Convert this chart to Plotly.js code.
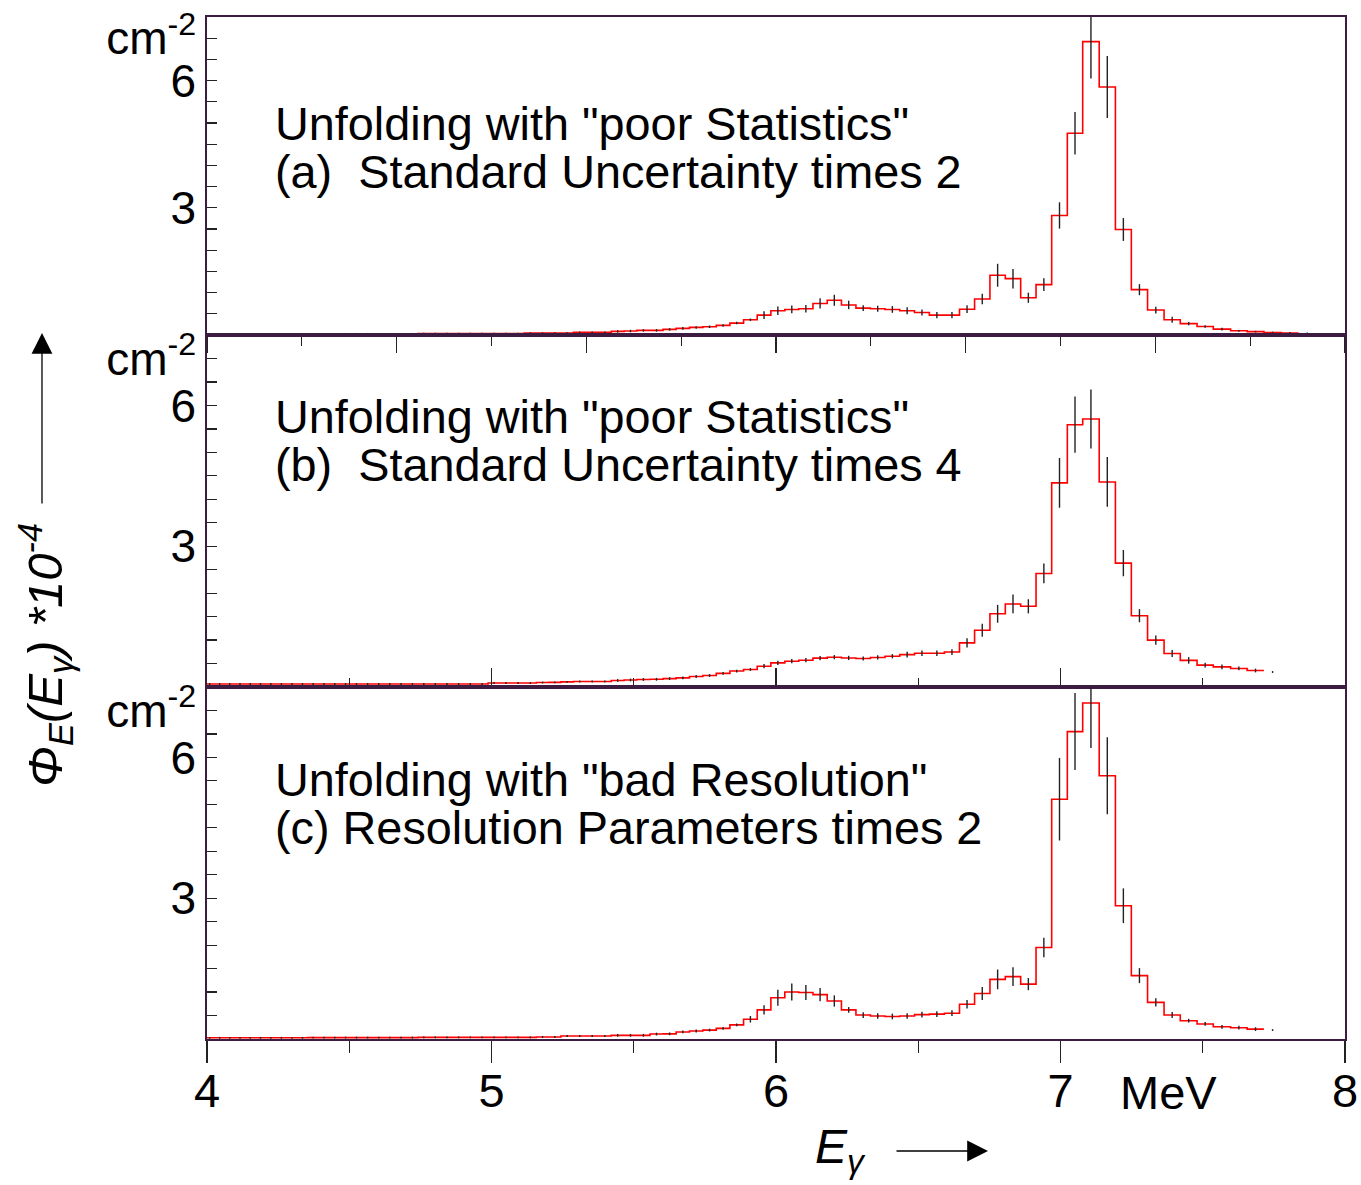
<!DOCTYPE html>
<html>
<head>
<meta charset="utf-8">
<script src="https://cdn.plot.ly/plotly-3.0.1.min.js"></script>
<style>html,body{margin:0;padding:0;background:#fff;}#chart{width:1361px;height:1185px;}</style>
</head>
<body>
<div id="chart"></div>
<script>
// Bin edges (MeV)
const edges = [
 3.992, 4.027, 4.062, 4.098, 4.134, 4.170, 4.206, 4.243, 4.280, 4.317,
 4.354, 4.392, 4.430, 4.468, 4.506, 4.545, 4.584, 4.623, 4.662, 4.702,
 4.742, 4.782, 4.823, 4.864, 4.905, 4.946, 4.988, 5.030, 5.072, 5.115,
 5.158, 5.201, 5.244, 5.288, 5.332, 5.376, 5.421, 5.466, 5.511, 5.557,
 5.603, 5.649, 5.696, 5.743, 5.790, 5.838, 5.886, 5.934, 5.982, 6.031,
 6.080, 6.130, 6.180, 6.230, 6.281, 6.332, 6.383, 6.435, 6.487, 6.539,
 6.592, 6.645, 6.698, 6.752, 6.806, 6.860, 6.914, 6.969, 7.024, 7.078,
 7.136, 7.193, 7.249, 7.306, 7.364, 7.421, 7.480, 7.537, 7.598, 7.656,
 7.715, 7.776, 7.837, 7.898
];

// Panel (a): poor statistics, standard uncertainty x2
const valsA = [
 0.025,0.025,0.025,0.025,0.025,0.025,0.025,0.025,0.025,0.025,
 0.03,0.03,0.03,0.03,0.03,0.03,0.03,0.03,0.03,0.03,
 0.035,0.035,0.035,0.035,0.035,0.035,0.035,0.035,0.035,0.045,
 0.045,0.045,0.045,0.065,0.065,0.065,0.086,0.094,0.11,0.11,
 0.133,0.157,0.18,0.196,0.227,0.282,0.36,0.47,0.573,0.604,
 0.62,0.745,0.82,0.71,0.635,0.62,0.604,0.573,0.533,0.47,
 0.47,0.61,0.85,1.41,1.33,0.88,1.19,2.82,4.76,6.92,
 5.85,2.49,1.07,0.59,0.36,0.27,0.20,0.14,0.10,0.08,
 0.06,0.05
];
const tailA = [0.04];
const errA = [
 0.02,0.02,0.02,0.02,0.02,0.02,0.02,0.02,0.02,0.02,
 0.02,0.02,0.02,0.02,0.02,0.02,0.02,0.02,0.02,0.02,
 0.02,0.02,0.02,0.02,0.02,0.02,0.02,0.02,0.02,0.02,
 0.02,0.02,0.02,0.02,0.02,0.02,0.03,0.03,0.03,0.03,
 0.03,0.03,0.03,0.03,0.03,0.03,0.03,0.09,0.10,0.09,
 0.09,0.12,0.13,0.10,0.07,0.07,0.08,0.08,0.07,0.075,
 0.075,0.09,0.125,0.27,0.23,0.12,0.15,0.31,0.50,0.87,
 0.73,0.27,0.13,0.08,0.07,0.04,0.03,0.03,0.02,0.02,
 0.02,0.02,0.02
];

// Panel (b): poor statistics, standard uncertainty x4
const valsB = [
 0.065,0.065,0.065,0.065,0.065,0.065,0.065,0.065,0.065,0.065,
 0.065,0.065,0.065,0.065,0.065,0.065,0.065,0.065,0.065,0.065,
 0.065,0.065,0.065,0.065,0.065,0.065,0.085,0.085,0.085,0.085,
 0.095,0.10,0.11,0.117,0.117,0.117,0.139,0.15,0.16,0.165,
 0.18,0.195,0.224,0.245,0.29,0.34,0.373,0.444,0.515,0.55,
 0.572,0.615,0.636,0.62,0.608,0.63,0.657,0.69,0.72,0.72,
 0.745,0.94,1.21,1.56,1.77,1.72,2.42,4.35,5.59,5.71,
 4.37,2.64,1.52,1.0,0.714,0.567,0.466,0.43,0.395,0.352
];
const tailB = [0.32];
const errB = [
 0.02,0.02,0.02,0.02,0.02,0.02,0.02,0.02,0.02,0.02,
 0.02,0.02,0.02,0.02,0.02,0.02,0.02,0.02,0.02,0.02,
 0.02,0.02,0.02,0.02,0.02,0.02,0.02,0.02,0.02,0.02,
 0.02,0.02,0.02,0.02,0.02,0.02,0.03,0.03,0.03,0.03,
 0.03,0.03,0.03,0.03,0.03,0.03,0.03,0.045,0.045,0.045,
 0.045,0.045,0.045,0.045,0.045,0.045,0.045,0.06,0.06,0.06,
 0.06,0.10,0.14,0.19,0.20,0.15,0.21,0.53,0.60,0.63,
 0.53,0.28,0.14,0.10,0.075,0.07,0.05,0.05,0.04,0.04,
 0.02
];

// Panel (c): bad resolution, resolution parameters x2
const valsC = [
 0.025,0.025,0.025,0.025,0.025,0.025,0.025,0.025,0.025,0.025,
 0.03,0.03,0.03,0.03,0.03,0.03,0.03,0.03,0.03,0.03,
 0.035,0.035,0.035,0.035,0.035,0.035,0.035,0.035,0.035,0.035,
 0.043,0.043,0.064,0.064,0.064,0.064,0.078,0.078,0.078,0.105,
 0.11,0.15,0.17,0.19,0.227,0.30,0.42,0.62,0.88,1.0,
 0.99,0.945,0.81,0.62,0.51,0.49,0.48,0.49,0.52,0.53,
 0.55,0.74,0.97,1.27,1.33,1.17,1.95,5.11,6.55,7.16,
 5.61,2.84,1.35,0.78,0.51,0.39,0.32,0.26,0.24,0.21
];
const tailC = [0.19];
const errC = [
 0.02,0.02,0.02,0.02,0.02,0.02,0.02,0.02,0.02,0.02,
 0.02,0.02,0.02,0.02,0.02,0.02,0.02,0.02,0.02,0.02,
 0.02,0.02,0.02,0.02,0.02,0.02,0.02,0.02,0.02,0.02,
 0.02,0.02,0.02,0.02,0.02,0.02,0.03,0.03,0.03,0.03,
 0.03,0.03,0.03,0.03,0.03,0.03,0.07,0.10,0.17,0.18,
 0.16,0.14,0.12,0.06,0.06,0.06,0.06,0.06,0.06,0.06,
 0.06,0.09,0.14,0.21,0.20,0.13,0.21,0.88,0.82,0.96,
 0.82,0.37,0.16,0.09,0.065,0.04,0.04,0.04,0.04,0.04,
 0.02
];

const yTickVals = [3, 6, 7];
const yTickText = ['3', '6', 'cm<sup>-2</sup>'];
const xTickVals = [4, 5, 6, 7, 8];
const xTickText = ['4', '5', '6', '7', '8'];

const panelText = [
 ['Unfolding with "poor Statistics"', '(a)\u00A0 Standard Uncertainty times 2'],
 ['Unfolding with "poor Statistics"', '(b)\u00A0 Standard Uncertainty times 4'],
 ['Unfolding with "bad Resolution"', '(c) Resolution Parameters times 2']
];

const FONT = 'Liberation Sans, Arial, Helvetica, sans-serif';
const LINE = '#3d1c42';

function histTraces(vals, tail, errs, xa, ya) {
  const n = vals.length;
  const xs = edges.slice(0, n + 1);
  const ys = vals.concat([vals[n - 1]]);
  const pts = vals.concat(tail);
  const cx = pts.map((_, i) => (edges[i] + edges[i + 1]) / 2);
  return [
    {x: xs, y: ys, mode: 'lines', line: {shape: 'hv', color: '#ff0000', width: 1.6},
     xaxis: xa, yaxis: ya, hoverinfo: 'skip', showlegend: false},
    {x: cx, y: pts, mode: 'markers', marker: {size: 1, color: 'rgba(0,0,0,0)'},
     error_y: {type: 'data', array: errs, visible: true, width: 0, thickness: 1.4, color: '#222'},
     xaxis: xa, yaxis: ya, cliponaxis: false, hoverinfo: 'skip', showlegend: false}
  ];
}

const data = [].concat(
  histTraces(valsA, tailA, errA, 'x', 'y'),
  histTraces(valsB, tailB, errB, 'x2', 'y2'),
  histTraces(valsC, tailC, errC, 'x3', 'y3')
);

function yAxis(domain, anchor) {
  return {
    domain: domain, anchor: anchor, range: [0, 7.5], fixedrange: true,
    showline: true, mirror: true, linecolor: LINE, linewidth: 1.6,
    showgrid: false, zeroline: false,
    ticks: 'inside', ticklen: 10, tickwidth: 1.2, tickcolor: '#222',
    tickmode: 'array', tickvals: yTickVals, ticktext: yTickText,
    ticklabelstandoff: 0,
    minor: {ticks: 'inside', tick0: 0, dtick: 0.5, ticklen: 10, tickwidth: 1.2, tickcolor: '#222', showgrid: false},
    tickfont: {family: FONT, size: 46, color: '#000'}
  };
}

const baseX = {
  range: [4, 8], domain: [0, 1], fixedrange: true,
  showline: true, mirror: true, linecolor: LINE, linewidth: 1.6,
  showgrid: false, zeroline: false, tickcolor: '#222', tickwidth: 1.2
};

const layout = {
  width: 1361, height: 1185,
  margin: {l: 207, r: 16, t: 17, b: 146},
  paper_bgcolor: '#fff', plot_bgcolor: '#fff',
  showlegend: false,
  font: {family: FONT, color: '#000'},
  xaxis: Object.assign({}, baseX, {
    anchor: 'y', ticks: 'outside', tick0: 4, dtick: 2 / 3, ticklen: 16, showticklabels: false,
    minor: {ticks: 'outside', tick0: 4, dtick: 1 / 3, ticklen: 9, tickwidth: 1.2, tickcolor: '#222', showgrid: false}
  }),
  xaxis2: Object.assign({}, baseX, {
    anchor: 'y2', ticks: 'inside', tick0: 4, dtick: 1, ticklen: 19, showticklabels: false,
    minor: {ticks: 'inside', tick0: 4, dtick: 0.5, ticklen: 9, tickwidth: 1.2, tickcolor: '#222', showgrid: false}
  }),
  xaxis3: Object.assign({}, baseX, {
    anchor: 'y3', ticks: 'outside', ticklen: 22,
    tickmode: 'array', tickvals: xTickVals, ticktext: xTickText,
    ticklabelstandoff: -12,
    tickfont: {family: FONT, size: 47, color: '#000'},
    minor: {ticks: 'outside', tick0: 4, dtick: 0.5, ticklen: 12, tickwidth: 1.2, tickcolor: '#222', showgrid: false}
  }),
  yaxis: yAxis([0.6888, 1.0], 'x'),
  yaxis2: yAxis([0.3444, 0.6888], 'x2'),
  yaxis3: yAxis([0, 0.3444], 'x3'),
  annotations: []
};

// panel descriptions
const textY = [[0.8953, 0.8483], [0.6086, 0.5616], [0.2534, 0.2065]];
panelText.forEach((lines, p) => {
  lines.forEach((t, i) => {
    layout.annotations.push({
      text: t, xref: 'paper', yref: 'paper', x: 0.058, y: textY[p][i],
      xanchor: 'left', yanchor: 'middle', showarrow: false,
      font: {family: FONT, size: 46.8, color: '#000'}
    });
  });
});

// MeV unit label on the x axis
layout.annotations.push({
  text: 'MeV', xref: 'x3', yref: 'paper', x: 7.38, y: -0.0519,
  xanchor: 'center', yanchor: 'middle', showarrow: false,
  font: {family: FONT, size: 47, color: '#000'}
});
// x axis title + arrow
layout.annotations.push({
  text: '<i>E<sub>γ</sub></i>', xref: 'paper', yref: 'paper', x: 0.5325, y: -0.1086,
  xanchor: 'left', yanchor: 'middle', showarrow: false,
  font: {family: FONT, size: 48, color: '#000'}
});
layout.annotations.push({
  text: '', xref: 'paper', yref: 'paper', x: 0.6863, y: -0.1096,
  ax: -93, ay: 0, showarrow: true, arrowhead: 2, arrowsize: 3.2, arrowwidth: 1.3, arrowcolor: '#000'
});
// y axis title + arrow
layout.annotations.push({
  text: '<i>Φ<sub>E</sub>(E<sub>γ</sub>) *10<sup>-4</sup></i>', xref: 'paper', yref: 'paper',
  x: -0.1424, y: 0.3757, xanchor: 'center', yanchor: 'middle', textangle: -90, showarrow: false,
  font: {family: FONT, size: 49, color: '#000'}
});
layout.annotations.push({
  text: '', xref: 'paper', yref: 'paper', x: -0.145, y: 0.6908,
  ax: 0, ay: 172, showarrow: true, arrowhead: 2, arrowsize: 3.2, arrowwidth: 1.3, arrowcolor: '#000'
});

Plotly.newPlot('chart', data, layout, {staticPlot: true, displayModeBar: false});
</script>
</body>
</html>
